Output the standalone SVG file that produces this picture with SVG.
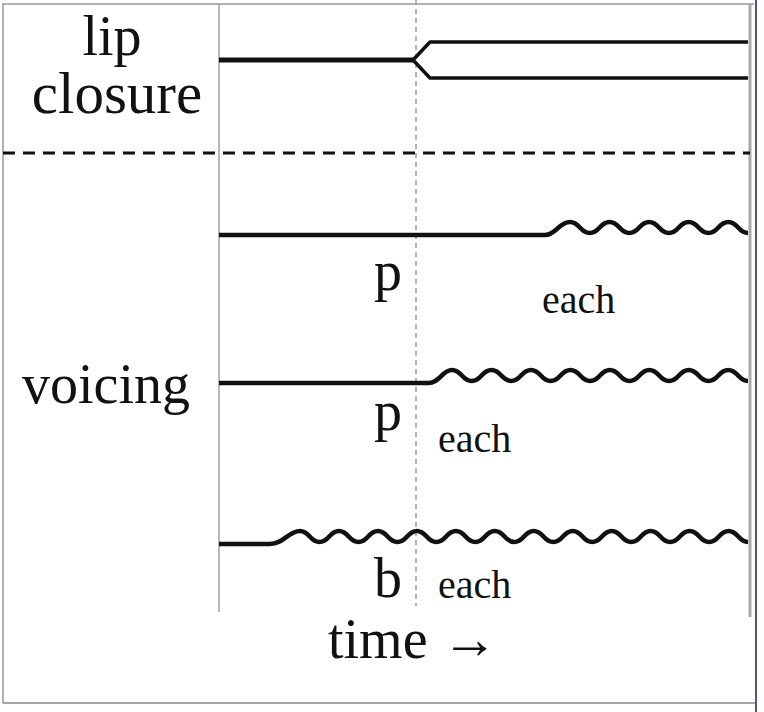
<svg xmlns="http://www.w3.org/2000/svg" width="764" height="712" viewBox="0 0 764 712">
<style>
.lbl{font-family:"Liberation Serif","Times New Roman",serif;fill:#111}
.big{font-size:56px}
.hd{font-size:59px}
.sm{font-size:40px}
.sig{fill:none;stroke:#111;stroke-linejoin:round;stroke-linecap:butt}
</style>
<rect x="0" y="0" width="764" height="712" fill="#fff"/>
<g id="frame" fill="none">
<line x1="2" y1="4" x2="754" y2="4" stroke="#999" stroke-width="1.5"/>
<line x1="3" y1="4" x2="3" y2="703" stroke="#999" stroke-width="1.5"/>
<line x1="3" y1="703" x2="755" y2="703" stroke="#888" stroke-width="1.5"/>
<line x1="756" y1="0" x2="756" y2="712" stroke="#1a1a70" stroke-width="1.5"/>
<line x1="219" y1="4" x2="219" y2="612" stroke="#888" stroke-width="1.2"/>
<line x1="750" y1="4" x2="750" y2="617" stroke="#aaa" stroke-width="3"/>
<line x1="416" y1="0" x2="416" y2="606" stroke="#999" stroke-width="1.5" stroke-dasharray="5 4"/>
<line x1="3" y1="153" x2="750" y2="153" stroke="#111" stroke-width="3" stroke-dasharray="12 8"/>
</g>
<g id="connectors">
<path id="lip-signal" class="sig" stroke-width="3.5" d="M413,60 L430,42 H748 M413,60 L430,78 H748"/>
<path class="sig" stroke-width="5" d="M219,60 H414"/>
<path id="voicing-1" class="sig" stroke-width="4.5" d="M219,235 H545 C556,235 559,222 570,222 c9.89,0 9.89,11 19.78,11 c9.89,0 9.89,-11 19.78,-11 c9.89,0 9.89,11 19.78,11 c9.89,0 9.89,-11 19.78,-11 c9.89,0 9.89,11 19.78,11 c9.89,0 9.89,-11 19.78,-11 c9.89,0 9.89,11 19.78,11 c9.89,0 9.89,-11 19.78,-11 c9.89,0 9.89,11 19.78,11"/>
<path id="voicing-2" class="sig" stroke-width="4.5" d="M219,383 H428 C440,383 442,370 452,370 c9.87,0 9.87,11 19.73,11 c9.87,0 9.87,-11 19.73,-11 c9.87,0 9.87,11 19.73,11 c9.87,0 9.87,-11 19.73,-11 c9.87,0 9.87,11 19.73,11 c9.87,0 9.87,-11 19.73,-11 c9.87,0 9.87,11 19.73,11 c9.87,0 9.87,-11 19.73,-11 c9.87,0 9.87,11 19.73,11 c9.87,0 9.87,-11 19.73,-11 c9.87,0 9.87,11 19.73,11 c9.87,0 9.87,-11 19.73,-11 c9.87,0 9.87,11 19.73,11 c9.87,0 9.87,-11 19.73,-11 c9.87,0 9.87,11 19.73,11"/>
<path id="voicing-3" class="sig" stroke-width="4.5" d="M219,544 H270 C284,544 288,531 300,531 c9.74,0 9.74,11 19.48,11 c9.74,0 9.74,-11 19.48,-11 c9.74,0 9.74,11 19.48,11 c9.74,0 9.74,-11 19.48,-11 c9.74,0 9.74,11 19.48,11 c9.74,0 9.74,-11 19.48,-11 c9.74,0 9.74,11 19.48,11 c9.74,0 9.74,-11 19.48,-11 c9.74,0 9.74,11 19.48,11 c9.74,0 9.74,-11 19.48,-11 c9.74,0 9.74,11 19.48,11 c9.74,0 9.74,-11 19.48,-11 c9.74,0 9.74,11 19.48,11 c9.74,0 9.74,-11 19.48,-11 c9.74,0 9.74,11 19.48,11 c9.74,0 9.74,-11 19.48,-11 c9.74,0 9.74,11 19.48,11 c9.74,0 9.74,-11 19.48,-11 c9.74,0 9.74,11 19.48,11 c9.74,0 9.74,-11 19.48,-11 c9.74,0 9.74,11 19.48,11 c9.74,0 9.74,-11 19.48,-11 c9.74,0 9.74,11 19.48,11"/>
</g>
<g id="label-lip-closure">
<text class="lbl big" x="112" y="55" text-anchor="middle">lip</text>
<text class="lbl hd" x="117" y="113" text-anchor="middle">closure</text>
</g>
<g id="label-voicing">
<text class="lbl big" x="106" y="403" text-anchor="middle">voicing</text>
</g>
<g id="row-1">
<text class="lbl big" x="374" y="290">p</text>
<text class="lbl sm" x="542" y="313">each</text>
</g>
<g id="row-2">
<text class="lbl big" x="374" y="430">p</text>
<text class="lbl sm" x="438" y="452">each</text>
</g>
<g id="row-3">
<text class="lbl big" x="374" y="597">b</text>
<text class="lbl sm" x="438" y="598">each</text>
</g>
<g id="label-time">
<text class="lbl big" x="328" y="658">time →</text>
</g>
</svg>
